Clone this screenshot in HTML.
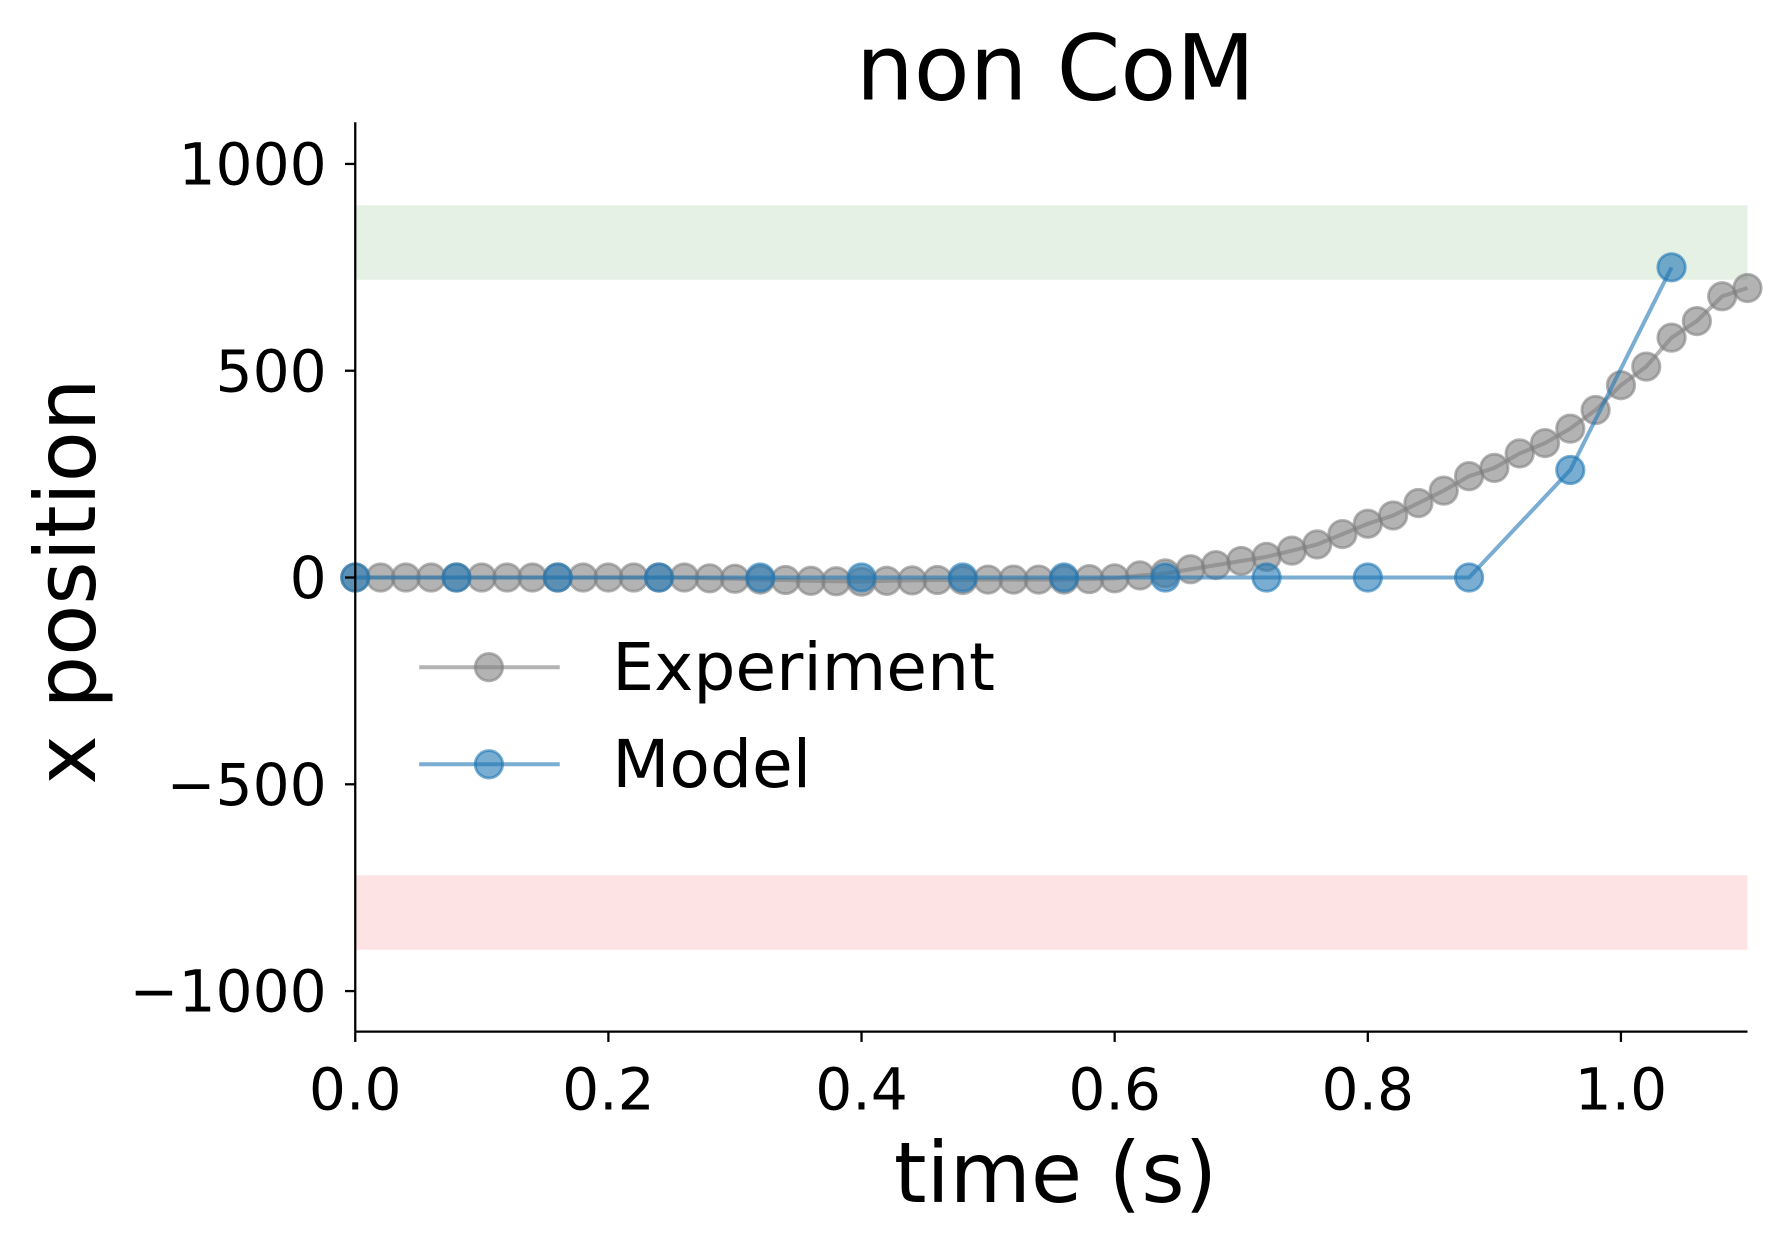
<!DOCTYPE html>
<html><head><meta charset="utf-8">
<style>
html,body{margin:0;padding:0;background:#fff;}
svg{display:block;font-family:"DejaVu Sans","Liberation Sans",sans-serif;}
</style></head>
<body>
<svg id="chart" width="1782" height="1243" viewBox="0 0 1560 1088" preserveAspectRatio="none" xmlns="http://www.w3.org/2000/svg"></svg>
<script>
const expTimes = [0,0.02,0.04,0.06,0.08,0.10,0.12,0.14,0.16,0.18,0.20,0.22,0.24,0.26,0.28,0.30,0.32,0.34,0.36,0.38,0.40,0.42,0.44,0.46,0.48,0.50,0.52,0.54,0.56,0.58,0.60,0.62,0.64,0.66,0.68,0.70,0.72,0.74,0.76,0.78,0.80,0.82,0.84,0.86,0.88,0.90,0.92,0.94,0.96,0.98,1.00,1.02,1.04,1.06,1.08,1.10];
const expValues = [0,0,0,0,0,0,0,0,0,0,0,0,0,0,-2,-3,-5,-6,-8,-9,-10,-8,-7,-6,-6,-5,-5,-5,-5,-4,-2,5,10,20,30,40,50,65,80,105,130,150,180,210,245,265,300,325,360,405,465,510,580,620,680,700];
const modelTimes = [0,0.08,0.16,0.24,0.32,0.40,0.48,0.56,0.64,0.72,0.80,0.88,0.96,1.04];
const modelValues = [0,0,0,0,0,0,0,0,0,0,0,0,260,750];
const xTicks = [0,0.2,0.4,0.6,0.8,1.0];
const xTickLabels = ["0.0","0.2","0.4","0.6","0.8","1.0"];
const yTicks = [1000,500,0,-500,-1000];
const yTickLabels = ["1000","500","0","\u2212500","\u22121000"];
const greenBand = [720,900];
const redBand = [-900,-720];

const L=311,T=107,B=903;
const X=t=>L+t*1108;
const R=X(1.1);
const Y=v=>505.5-v*0.362;
const svg=document.getElementById('chart');
const NS="http://www.w3.org/2000/svg";
function mk(tag,attrs,parent){const e=document.createElementNS(NS,tag);for(const k in attrs)e.setAttribute(k,attrs[k]);(parent||svg).appendChild(e);return e;}

let r=mk('rect',{x:L,y:Y(greenBand[1]),width:R-L,height:Y(greenBand[0])-Y(greenBand[1]),fill:'#e6f1e6'});


r=mk('rect',{x:L,y:Y(redBand[1]),width:R-L,height:Y(redBand[0])-Y(redBand[1]),fill:'#fde3e4'});



function series(ts,vs,color,name){
  const g=mk('g',{});
  
  
  mk('polyline',{points:ts.map((t,i)=>X(t)+','+Y(vs[i])).join(' '),fill:'none',stroke:color,'stroke-width':3.5,'stroke-opacity':0.6},g);
  ts.forEach((t,i)=>{
    const c=mk('circle',{cx:X(t),cy:Y(vs[i]),r:12,fill:color,'fill-opacity':0.6,stroke:color,'stroke-opacity':0.6,'stroke-width':2.5},g);
    
    
  });
}
series(expTimes,expValues,'#808080','experiment');
series(modelTimes,modelValues,'#1f77b4','model');

let ax=mk('line',{x1:L,y1:T,x2:L,y2:B,stroke:'#000','stroke-width':2});


ax=mk('line',{x1:L,y1:B,x2:R,y2:B,stroke:'#000','stroke-width':2});



xTicks.forEach((t,i)=>{
  mk('line',{x1:X(t),y1:B,x2:X(t),y2:B+9,stroke:'#000','stroke-width':2});
  const tx=mk('text',{x:X(t),y:B+68,'font-size':51,'text-anchor':'middle'});
  tx.textContent=xTickLabels[i];
  
  
});
yTicks.forEach((v,i)=>{
  mk('line',{x1:L-9,y1:Y(v),x2:L,y2:Y(v),stroke:'#000','stroke-width':2});
  const tx=mk('text',{x:L-25,y:Y(v)+18,'font-size':51,'text-anchor':'end'});
  tx.textContent=yTickLabels[i];
  
  
});

let t=mk('text',{x:924,y:87,'font-size':80,'text-anchor':'middle'});t.textContent='non CoM';


t=mk('text',{x:924,y:1052,'font-size':73,'text-anchor':'middle'});t.textContent='time (s)';


t=mk('text',{x:83,y:509,'font-size':73,'text-anchor':'middle',transform:'rotate(-90 83 509)'});t.textContent='x position';



const lg=mk('g',{});


[['Experiment','#808080',584],['Model','#1f77b4',669]].forEach(([lab,col,y])=>{
  const e=mk('g',{},lg);
  
  
  mk('line',{x1:367,y1:y,x2:490,y2:y,stroke:col,'stroke-width':3.5,'stroke-opacity':0.6},e);
  mk('circle',{cx:428,cy:y,r:12,fill:col,'fill-opacity':0.6,stroke:col,'stroke-opacity':0.6,'stroke-width':2.5},e);
  const tx=mk('text',{x:536,y:y+20,'font-size':58},e);tx.textContent=lab;
});
</script>
</body></html>
